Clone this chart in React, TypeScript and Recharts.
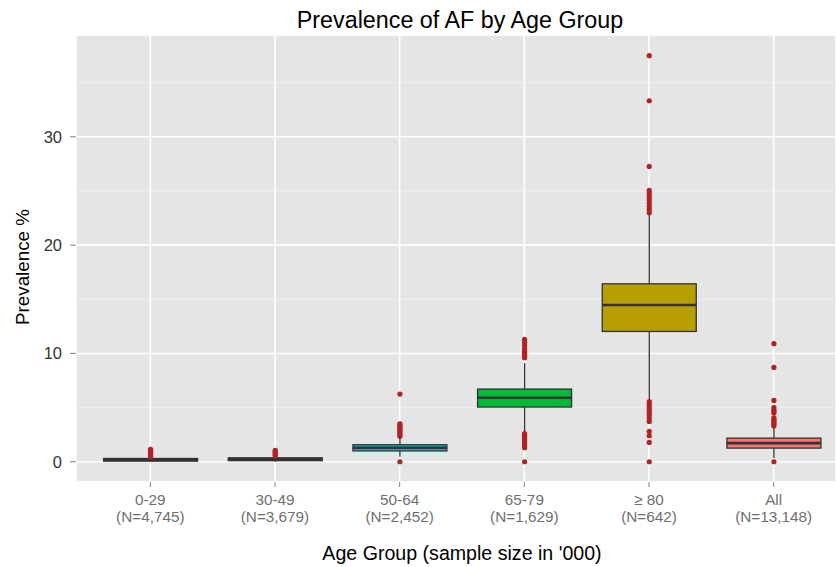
import React from 'react';
import { ComposedChart, Bar, XAxis, YAxis, CartesianGrid } from 'recharts';

const categories = ['0-29', '30-49', '50-64', '65-79', '≥ 80', 'All'];
const sampleSizes = ['4,745', '3,679', '2,452', '1,629', '642', '13,148'];
const whiskerLow = [0.0, 0.0, 0.45, 2.7, 5.63, 0.35];
const q1 = [0.06, 0.1, 1.0, 5.05, 12.03, 1.26];
const median = [0.18, 0.24, 1.29, 5.91, 14.47, 1.72];
const q3 = [0.3, 0.36, 1.57, 6.71, 16.43, 2.18];
const whiskerHigh = [0.38, 0.45, 2.2, 9.1, 22.8, 3.2];
const outliers0_29 = [0.45, 0.55, 0.65, 0.75, 0.85, 0.95, 1.05, 1.15];
const outliers30_49 = [0.55, 0.65, 0.75, 0.85, 0.95, 1.05];
const outliers50_64 = [0.0, 2.35, 2.5, 2.65, 2.8, 2.95, 3.1, 3.25, 3.4, 3.5, 6.25];
const outliers65_79 = [0.0, 1.3, 1.5, 1.7, 1.85, 2.0, 2.15, 2.3, 2.45, 2.6, 9.6, 9.75, 9.9, 10.05, 10.2, 10.4, 10.7, 11.0, 11.3];
const outliers80 = [0.0, 1.78, 2.4, 2.8, 3.72, 4.0, 4.3, 4.55, 4.8, 5.05, 5.3, 5.55, 23.0, 23.3, 23.6, 23.9, 24.2, 24.5, 24.8, 25.05, 27.27, 33.33, 37.49];
const outliersAll = [0.0, 3.3, 3.45, 3.6, 3.75, 3.9, 4.05, 4.5, 4.65, 4.8, 5.0, 5.66, 8.71, 10.9];
const outlierSets = [outliers0_29, outliers30_49, outliers50_64, outliers65_79, outliers80, outliersAll];
const yTicks = [0, 10, 20, 30];
const yMinorTicks = [5, 15, 25, 35];
const yDomain = [-1.87, 39.4];

const fills = ['#619CFF', '#F564E3', '#00BFC4', '#00BA38', '#B79F00', '#F8766D'];

const rows = categories.map((c, i) => ({
  name: c,
  n: sampleSizes[i],
  lo: whiskerLow[i],
  q1: q1[i],
  med: median[i],
  q3: q3[i],
  hi: whiskerHigh[i],
  out: outlierSets[i],
}));

const FONT = '"Liberation Sans", Arial, Helvetica, sans-serif';

const BoxShape = (props: any) => {
  const { x, y, width, height, payload } = props;
  if (!payload) return null;
  const i = categories.indexOf(payload.name);
  const top = Math.min(y, y + height);
  const bottom = Math.max(y, y + height);
  const span = payload.hi - payload.lo;
  const pix = (v: number) => bottom - ((v - payload.lo) / span) * (bottom - top);
  const cx = x + width / 2;
  const yq1 = pix(payload.q1);
  const yq3 = pix(payload.q3);
  const ymed = pix(payload.med);
  return (
    <g>
      <line x1={cx} x2={cx} y1={pix(payload.hi)} y2={yq3} stroke="#333333" strokeWidth={1.3} />
      <line x1={cx} x2={cx} y1={yq1} y2={pix(payload.lo)} stroke="#333333" strokeWidth={1.3} />
      <rect x={x} y={yq3} width={width} height={Math.max(yq1 - yq3, 0.5)} fill={fills[i]} stroke="#333333" strokeWidth={1.3} />
      <line x1={x} x2={x + width} y1={ymed} y2={ymed} stroke="#333333" strokeWidth={2.7} />
      {payload.out.map((v: number, k: number) => (
        <circle key={k} cx={cx} cy={pix(v)} r={2.6} fill="#B22222" />
      ))}
    </g>
  );
};

const XTick = (props: any) => {
  const { x, y, payload, index } = props;
  const i = categories.indexOf(payload.value);
  return (
    <text x={x} y={y} textAnchor="middle" fill="#6F6F6F" fontSize={15.3} fontFamily={FONT}>
      <tspan x={x} dy={16}>{payload.value}</tspan>
      <tspan x={x} dy={17}>{`(N=${sampleSizes[i >= 0 ? i : index]})`}</tspan>
    </text>
  );
};

export default function App() {
  return (
    <div style={{ position: 'relative', width: 836, height: 567 }}>
      <style>{'body{margin:0}'}</style>
      <ComposedChart
        width={836}
        height={567}
        data={rows}
        margin={{ top: 35, right: 0, left: 0, bottom: 0 }}
        barCategoryGap="12.5%"
      >
        <CartesianGrid yAxisId="minor" vertical={false} stroke="#F2F2F2" strokeWidth={0.8} fill="#E5E5E5" />
        <CartesianGrid stroke="#FFFFFF" strokeWidth={1.6} fill="none" />
        <XAxis
          dataKey="name"
          type="category"
          height={85}
          axisLine={false}
          tickLine={{ stroke: '#7F7F7F' }}
          tickSize={5}
          tickMargin={2}
          padding={{ left: 12, right: 0 }}
          tick={<XTick />}
          interval={0}
        />
        <YAxis
          type="number"
          domain={yDomain}
          ticks={yTicks}
          allowDataOverflow
          width={76}
          axisLine={false}
          tickLine={{ stroke: '#7F7F7F' }}
          tickSize={6}
          tickMargin={8}
          tick={{ fill: '#333333', fontSize: 16.5, fontFamily: FONT }}
        />
        <YAxis yAxisId="minor" type="number" domain={yDomain} ticks={yMinorTicks} allowDataOverflow hide />
        <Bar
          dataKey={(d: any) => [d.lo, d.hi]}
          shape={<BoxShape />}
          isAnimationActive={false}
          activeBar={false}
        />
      </ComposedChart>
      <svg width={836} height={567} style={{ position: 'absolute', left: 0, top: 0, pointerEvents: 'none' }}>
        <text x={460} y={28} textAnchor="middle" fontSize={23.3} fontFamily={FONT} fill="#000000">
          Prevalence of AF by Age Group
        </text>
        <text x={462} y={560} textAnchor="middle" fontSize={19.6} fontFamily={FONT} fill="#000000">
          Age Group (sample size in '000)
        </text>
        <text
          x={29}
          y={267}
          textAnchor="middle"
          fontSize={18.8}
          fontFamily={FONT}
          fill="#000000"
          transform="rotate(-90 29 267)"
        >
          Prevalence %
        </text>
      </svg>
    </div>
  );
}
